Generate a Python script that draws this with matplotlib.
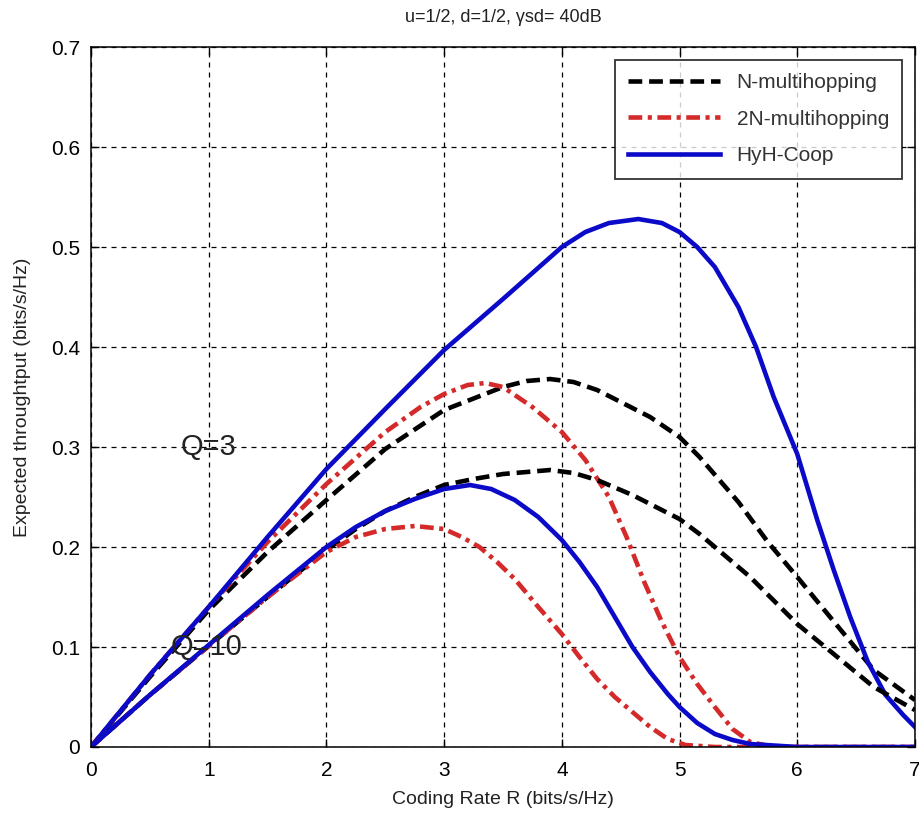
import matplotlib
matplotlib.use('Agg')
import matplotlib.pyplot as plt

# Coding rate points and throughput values
# Q = 3
x_n3 = [0, 0.5, 1, 1.5, 2, 2.5, 3, 3.5, 3.7, 3.9, 4.1, 4.3, 4.5, 4.75, 5, 5.17, 5.5, 5.75, 6, 6.3, 6.65, 7]
y_n3 = [0, 0.07, 0.137, 0.195, 0.247, 0.298, 0.337, 0.36, 0.366, 0.368, 0.365, 0.357, 0.345, 0.33, 0.31, 0.29, 0.245, 0.205, 0.17, 0.127, 0.077, 0.047]

x_2n3 = [0, 0.5, 1, 1.5, 2, 2.5, 2.8, 3, 3.2, 3.35, 3.5, 3.75, 4, 4.2, 4.4, 4.55, 4.7, 4.85, 5, 5.15, 5.3, 5.45, 5.6, 5.8, 7]
y_2n3 = [0, 0.072, 0.14, 0.205, 0.263, 0.315, 0.34, 0.353, 0.362, 0.364, 0.36, 0.34, 0.315, 0.287, 0.25, 0.21, 0.165, 0.125, 0.09, 0.063, 0.04, 0.018, 0.005, 0, 0]

x_h3 = [0, 0.5, 1, 1.5, 2, 2.5, 3, 3.5, 4, 4.2, 4.4, 4.65, 4.85, 5, 5.15, 5.3, 5.5, 5.65, 5.8, 6, 6.17, 6.31, 6.45, 6.6, 6.75, 6.9, 7]
y_h3 = [0, 0.072, 0.14, 0.21, 0.278, 0.338, 0.397, 0.448, 0.5, 0.515, 0.524, 0.528, 0.524, 0.515, 0.5, 0.48, 0.44, 0.4, 0.35, 0.293, 0.227, 0.177, 0.13, 0.085, 0.052, 0.032, 0.02]

# Q = 10
x_n10 = [0, 0.5, 1, 1.5, 2, 2.25, 2.5, 2.75, 3, 3.25, 3.5, 3.9, 4.1, 4.3, 4.6, 5, 5.17, 5.4, 5.6, 6, 6.31, 6.65, 7]
y_n10 = [0, 0.052, 0.101, 0.15, 0.197, 0.218, 0.236, 0.25, 0.262, 0.268, 0.273, 0.277, 0.274, 0.267, 0.252, 0.228, 0.213, 0.19, 0.17, 0.123, 0.093, 0.06, 0.037]

x_2n10 = [0, 0.5, 1, 1.5, 2, 2.25, 2.5, 2.75, 3, 3.15, 3.3, 3.45, 3.6, 3.8, 4, 4.15, 4.3, 4.45, 4.6, 4.75, 4.9, 5.05, 5.3, 7]
y_2n10 = [0, 0.052, 0.101, 0.15, 0.195, 0.21, 0.218, 0.221, 0.218, 0.21, 0.2, 0.185, 0.168, 0.14, 0.113, 0.09, 0.068, 0.05, 0.035, 0.02, 0.008, 0.002, 0, 0]

x_h10 = [0, 0.5, 1, 1.5, 2, 2.25, 2.5, 2.75, 3, 3.22, 3.4, 3.6, 3.8, 4, 4.15, 4.3, 4.45, 4.6, 4.75, 4.9, 5, 5.15, 5.3, 5.45, 5.6, 6, 7]
y_h10 = [0, 0.052, 0.102, 0.152, 0.2, 0.22, 0.236, 0.248, 0.258, 0.262, 0.258, 0.247, 0.23, 0.207, 0.185, 0.16, 0.13, 0.1, 0.075, 0.053, 0.04, 0.024, 0.013, 0.007, 0.003, 0, 0]

fam = ['Liberation Sans Narrow', 'Liberation Sans', 'DejaVu Sans']
plt.rcParams['font.family'] = fam

fig = plt.figure(figsize=(9.19, 8.18), dpi=100)
ax = fig.add_axes([0.099, 0.0868, 0.8966, 0.8557])

blue = '#0a0ac8'
red = '#d42a2a'
lw = 3.3
dash = (0, (3.0, 1.5))
dashdot = (0, (3.0, 1.2, 0.9, 1.2))

ax.plot(x_n3, y_n3, color='black', linestyle=dash, linewidth=lw, label='N-multihopping')
ax.plot(x_2n3, y_2n3, color=red, linestyle=dashdot, linewidth=lw, label='2N-multihopping')
ax.plot(x_h3, y_h3, color=blue, linewidth=lw, label='HyH-Coop')
ax.plot(x_n10, y_n10, color='black', linestyle=dash, linewidth=lw)
ax.plot(x_2n10, y_2n10, color=red, linestyle=dashdot, linewidth=lw)
ax.plot(x_h10, y_h10, color=blue, linewidth=lw)

ax.text(1.0, 0.3, 'Q=3', fontsize=21, ha='center', va='center', color='#222222')
ax.text(0.98, 0.1, 'Q=10', fontsize=21, ha='center', va='center', color='#222222')

ax.set_xlim(0, 7)
ax.set_ylim(0, 0.7)
ax.set_xticks(range(8))
ax.set_yticks([0, 0.1, 0.2, 0.3, 0.4, 0.5, 0.6, 0.7])
ax.set_yticklabels(['0', '0.1', '0.2', '0.3', '0.4', '0.5', '0.6', '0.7'])
ax.tick_params(direction='in', top=True, right=True, labelsize=15, length=6, width=1)
ax.tick_params(axis='x', pad=10)
ax.tick_params(axis='y', pad=8)
ax.grid(True, color='black', linestyle=(0, (4, 4)), linewidth=0.9)
for s in ax.spines.values():
    s.set_linewidth(1.1)

ax.set_xlabel('Coding Rate R (bits/s/Hz)', fontsize=14, labelpad=8, color='#222222')
ax.set_ylabel('Expected throughtput (bits/s/Hz)', fontsize=14, labelpad=14, color='#222222')
ax.set_title('u=1/2, d=1/2, \u03b3sd= 40dB', fontsize=13, pad=18, color='#222222')

leg = ax.legend(loc='upper right', fontsize=15, handlelength=4.4, frameon=True, fancybox=False,
                edgecolor='black', borderaxespad=0.6, labelspacing=0.85, borderpad=0.65)
leg.get_frame().set_linewidth(1.3)
for t in leg.get_texts():
    t.set_color('#333333')

fig.savefig('out.png', dpi=100)
